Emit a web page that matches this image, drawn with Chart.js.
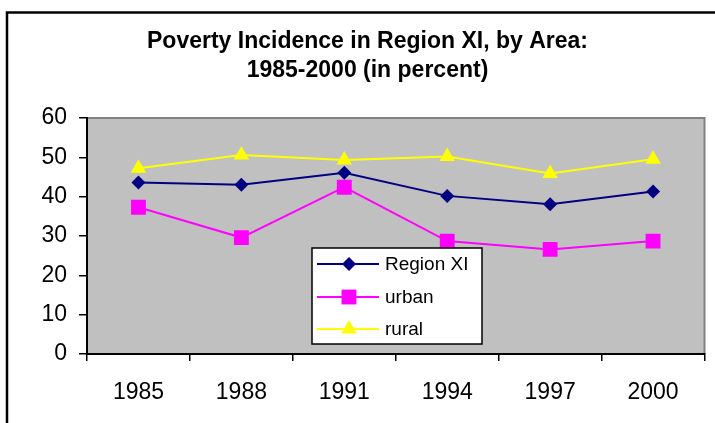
<!DOCTYPE html>
<html><head><meta charset="utf-8">
<script src="https://cdn.jsdelivr.net/npm/chart.js@4/dist/chart.umd.min.js"></script>
<style>html,body{margin:0;padding:0;background:#fff}#wrap{position:relative;width:715px;height:423px}</style>
</head><body><div id="wrap"><canvas id="c" width="715" height="423"></canvas></div>
<script>
const years = ['1985', '1988', '1991', '1994', '1997', '2000'];
const regionXI = [43.6, 43.0, 46.1, 40.2, 38.1, 41.3];
const urban = [37.3, 29.6, 42.4, 28.7, 26.6, 28.7];
const rural = [47.2, 50.6, 49.3, 50.2, 45.9, 49.5];
const seriesNames = ['Region XI', 'urban', 'rural'];
const titleLines = ['Poverty Incidence in Region XI, by Area:', '1985-2000 (in percent)'];

const FONT = "'Liberation Sans', Arial, sans-serif";

function drawMarker(ctx, style, x, y, r, color) {
  ctx.save();
  ctx.fillStyle = color;
  ctx.beginPath();
  if (style === 'rectRot') {
    ctx.moveTo(x - r, y); ctx.lineTo(x, y - r); ctx.lineTo(x + r, y); ctx.lineTo(x, y + r);
  } else if (style === 'rect') {
    const s = Math.SQRT1_2 * r;
    ctx.rect(x - s, y - s, 2 * s, 2 * s);
  } else if (style === 'triangle') {
    for (let i = 0; i < 3; i++) {
      const a = i * 2 * Math.PI / 3;
      const px = x + Math.sin(a) * r, py = y - Math.cos(a) * r;
      if (i === 0) ctx.moveTo(px, py); else ctx.lineTo(px, py);
    }
  }
  ctx.closePath();
  ctx.fill();
  ctx.restore();
}

const framePlugin = {
  id: 'frame',
  beforeDraw(chart) {
    const ctx = chart.ctx, a = chart.chartArea;
    ctx.save();
    ctx.fillStyle = '#fff';
    ctx.fillRect(0, 0, chart.width, chart.height);
    ctx.strokeStyle = '#000';
    ctx.lineWidth = 2.5;
    ctx.beginPath();
    ctx.moveTo(7, 423); ctx.lineTo(7, 12.5); ctx.lineTo(715, 12.5);
    ctx.stroke();
    ctx.fillStyle = '#C0C0C0';
    ctx.fillRect(a.left, a.top, a.right - a.left, a.bottom - a.top);
    ctx.strokeStyle = '#808080';
    ctx.lineWidth = 2;
    ctx.beginPath();
    ctx.moveTo(a.left, a.top); ctx.lineTo(a.right, a.top); ctx.lineTo(a.right, a.bottom);
    ctx.stroke();
    ctx.restore();
  }
};

const legendPlugin = {
  id: 'boxLegend',
  afterDraw(chart) {
    const ctx = chart.ctx;
    const x0 = 312, y0 = 248, w = 170, h = 96;
    ctx.save();
    ctx.fillStyle = '#fff';
    ctx.fillRect(x0, y0, w, h);
    ctx.strokeStyle = '#000';
    ctx.lineWidth = 1.5;
    ctx.strokeRect(x0, y0, w, h);
    const rows = [264, 297, 329];
    chart.data.datasets.forEach((ds, i) => {
      const y = rows[i];
      ctx.strokeStyle = ds.borderColor;
      ctx.lineWidth = 2;
      ctx.beginPath(); ctx.moveTo(317, y); ctx.lineTo(379, y); ctx.stroke();
      drawMarker(ctx, ds.pointStyle, 349, y, ds.pointRadius, ds.pointBackgroundColor);
      ctx.fillStyle = '#000';
      ctx.font = '19px ' + FONT;
      ctx.textBaseline = 'middle';
      ctx.textAlign = 'left';
      ctx.fillText(ds.label, 385, y + 1);
    });
    ctx.restore();
  }
};

new Chart(document.getElementById('c'), {
  type: 'line',
  data: {
    labels: years,
    datasets: [
      { label: seriesNames[0], data: regionXI, borderColor: '#000080', pointBackgroundColor: '#000080', pointBorderColor: '#000080',
        pointStyle: 'rectRot', pointRadius: 7, borderWidth: 2, pointBorderWidth: 0, order: 2 },
      { label: seriesNames[1], data: urban, borderColor: '#FF00FF', pointBackgroundColor: '#FF00FF', pointBorderColor: '#FF00FF',
        pointStyle: 'rect', pointRadius: 10.5, borderWidth: 2, pointBorderWidth: 0, order: 1 },
      { label: seriesNames[2], data: rural, borderColor: '#FFFF00', pointBackgroundColor: '#FFFF00', pointBorderColor: '#FFFF00',
        pointStyle: 'triangle', pointRadius: 9, borderWidth: 2, pointBorderWidth: 0, order: 0 }
    ]
  },
  options: {
    responsive: false,
    animation: false,
    devicePixelRatio: 1,
    layout: { padding: { left: 30, right: 10, top: 0, bottom: 20 } },
    plugins: {
      legend: { display: false },
      tooltip: { enabled: false },
      title: {
        display: true, text: titleLines, color: '#000',
        font: { family: FONT, size: 23, weight: 'bold', lineHeight: 29 / 23 },
        padding: { top: 27, bottom: 33 }
      }
    },
    scales: {
      x: {
        offset: true,
        grid: { offset: true, drawOnChartArea: false, color: '#000', tickLength: 7, lineWidth: 1.5 },
        border: { color: '#000', width: 2 },
        ticks: { color: '#000', font: { family: FONT, size: 23 }, padding: 18 },
        afterFit(s) { s.height = 49; }
      },
      y: {
        min: 0, max: 60,
        grid: { drawOnChartArea: false, color: '#000', tickLength: 8, lineWidth: 1.5 },
        border: { color: '#000', width: 2 },
        ticks: { stepSize: 10, color: '#000', font: { family: FONT, size: 23 }, padding: 12 },
        afterFit(s) { s.width = 57; }
      }
    }
  },
  plugins: [framePlugin, legendPlugin]
});
</script>
</body></html>
